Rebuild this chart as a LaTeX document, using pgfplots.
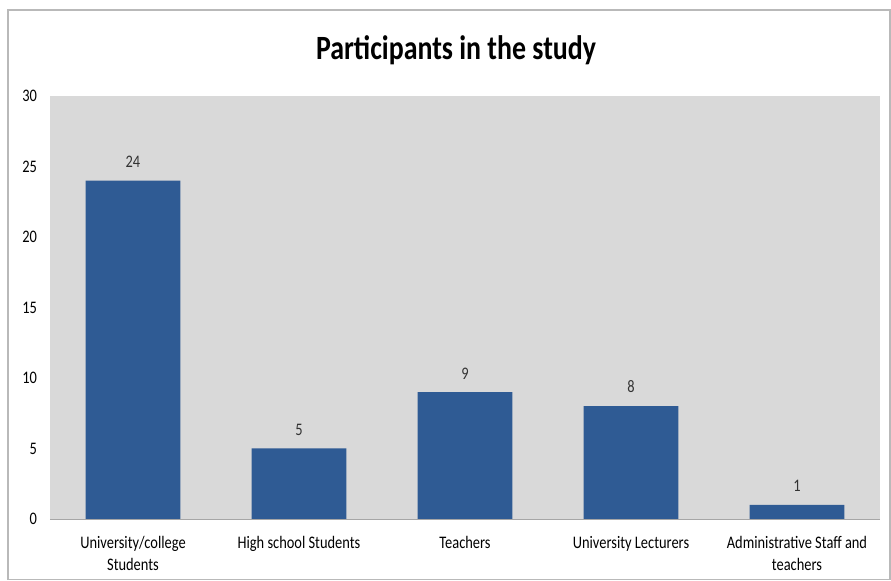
\documentclass[border=0pt]{standalone}
\usepackage{fontspec}
\setmainfont{Carlito}[FakeStretch=0.82]
\usepackage{pgfplots}
\pgfplotsset{compat=1.18}
\definecolor{barblue}{RGB}{47,91,148}
\definecolor{plotgray}{RGB}{217,217,217}
\begin{document}
\begin{tikzpicture}
\useasboundingbox (0,0) rectangle (445.5pt,290.5pt);
\draw[gray!55, line width=0.6pt] (4pt,0.6pt) rectangle (445pt,285.5pt);
\node[font=\bfseries\fontsize{17}{20}\selectfont] at (228pt,265.5pt) {Participants in the study};
\begin{axis}[
    at={(25pt,31pt)}, anchor=south west,
    scale only axis,
    width=415pt, height=211.5pt,
    ybar,
    bar width=0.57,
    xmin=-0.5, xmax=4.5,
    ymin=0, ymax=30,
    ytick={0,5,...,30},
    xtick=data,
    xticklabels={University/college\\Students, High school Students, Teachers, University Lecturers, Administrative Staff and\\teachers},
    xticklabel style={align=center, font=\fontsize{8.8}{11}\selectfont, yshift=-5pt},
    yticklabel style={font=\fontsize{8.8}{10}\selectfont, xshift=-3pt},
    /pgf/number format/assume math mode=true,
    major tick length=0pt,
    axis x line*=bottom,
    axis y line*=left,
    x axis line style={draw=gray!70, -},
    y axis line style={draw=none},
    axis background/.style={fill=plotgray},
    nodes near coords,
    every node near coord/.append style={font=\fontsize{8.8}{10}\selectfont, black!80, yshift=3pt},
]
\addplot[fill=barblue, draw=none] coordinates {(0,24) (1,5) (2,9) (3,8) (4,1)};
\end{axis}
\end{tikzpicture}
\end{document}
